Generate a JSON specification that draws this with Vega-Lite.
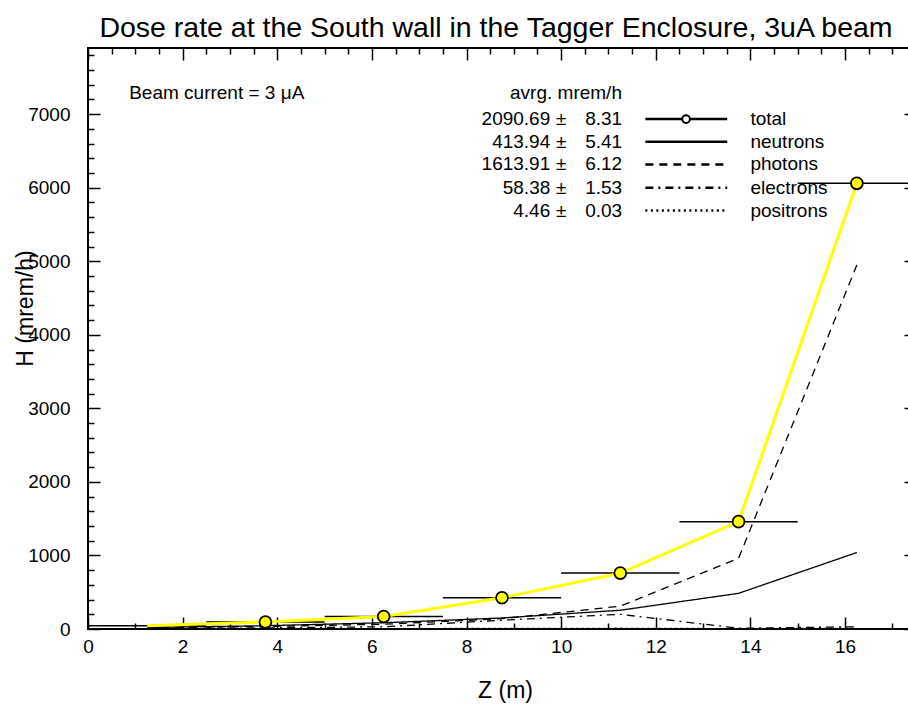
{
  "$schema": "https://vega.github.io/schema/vega-lite/v6.json",
  "width": 828,
  "height": 581,
  "autosize": {"type": "none"},
  "padding": {"left": 88, "top": 48, "right": 0, "bottom": 75},
  "background": "white",
  "title": {
    "text": "Dose rate at the South wall in the Tagger Enclosure, 3uA beam",
    "font": "Liberation Sans", "fontSize": 28.5, "fontWeight": "normal", "color": "black",
    "anchor": "middle", "dx": -6, "dy": 30, "offset": 11, "baseline": "alphabetic"
  },
  "config": {
    "view": {"stroke": "black", "strokeWidth": 2},
    "axis": {
      "grid": false, "domain": false, "tickColor": "black", "tickWidth": 1.5,
      "labelColor": "black", "labelFont": "Liberation Sans", "labelFontSize": 19,
      "titleFont": "Liberation Sans", "titleFontSize": 23, "titleFontWeight": "normal", "titleColor": "black",
      "labelFlush": false, "labelOverlap": false, "labelBound": false
    },
    "text": {"font": "Liberation Sans", "fontSize": 19, "color": "black"}
  },
  "datasets": {
    "comp": [
      {"z": 1.25, "H": 20, "p": "neutrons"}, {"z": 3.75, "H": 45, "p": "neutrons"}, {"z": 6.25, "H": 85, "p": "neutrons"}, {"z": 8.75, "H": 150, "p": "neutrons"}, {"z": 11.25, "H": 255, "p": "neutrons"}, {"z": 13.75, "H": 485, "p": "neutrons"}, {"z": 16.25, "H": 1040, "p": "neutrons"},
      {"z": 1.25, "H": 15, "p": "photons"}, {"z": 3.75, "H": 35, "p": "photons"}, {"z": 6.25, "H": 65, "p": "photons"}, {"z": 8.75, "H": 140, "p": "photons"}, {"z": 11.25, "H": 310, "p": "photons"}, {"z": 13.75, "H": 960, "p": "photons"}, {"z": 16.25, "H": 4950, "p": "photons"},
      {"z": 1.25, "H": 5, "p": "electrons"}, {"z": 3.75, "H": 15, "p": "electrons"}, {"z": 6.25, "H": 30, "p": "electrons"}, {"z": 8.75, "H": 120, "p": "electrons"}, {"z": 11.25, "H": 200, "p": "electrons"}, {"z": 13.75, "H": 10, "p": "electrons"}, {"z": 16.25, "H": 30, "p": "electrons"},
      {"z": 1.25, "H": 2, "p": "positrons"}, {"z": 3.75, "H": 3, "p": "positrons"}, {"z": 6.25, "H": 5, "p": "positrons"}, {"z": 8.75, "H": 8, "p": "positrons"}, {"z": 11.25, "H": 10, "p": "positrons"}, {"z": 13.75, "H": 5, "p": "positrons"}, {"z": 16.25, "H": 8, "p": "positrons"}
    ],
    "total": [
      {"z": 1.25, "H": 45, "lo": 0, "hi": 2.5},
      {"z": 3.75, "H": 95, "lo": 2.5, "hi": 5},
      {"z": 6.25, "H": 170, "lo": 5, "hi": 7.5},
      {"z": 8.75, "H": 425, "lo": 7.5, "hi": 10},
      {"z": 11.25, "H": 760, "lo": 10, "hi": 12.5},
      {"z": 13.75, "H": 1460, "lo": 12.5, "hi": 15},
      {"z": 16.25, "H": 6060, "lo": 15, "hi": 17.5}
    ],
    "leg": [
      {"p": "total", "val": "2090.69", "err": "8.31", "ly": 6933},
      {"p": "neutrons", "val": "413.94", "err": "5.41", "ly": 6624},
      {"p": "photons", "val": "1613.91", "err": "6.12", "ly": 6317},
      {"p": "electrons", "val": "58.38", "err": "1.53", "ly": 6001},
      {"p": "positrons", "val": "4.46", "err": "0.03", "ly": 5689}
    ],
    "notes": [
      {"t": "avrg. mrem/h", "nx": 8.92, "ny": 7286},
      {"t": "Beam current = 3 μA", "nx": 0.87, "ny": 7286}
    ]
  },
  "resolve": {"axis": {"x": "independent", "y": "independent"}},
  "layer": [
    {
      "data": {"name": "comp"},
      "mark": {"type": "line", "color": "black", "strokeWidth": 1.3},
      "encoding": {
        "x": {"field": "z", "type": "quantitative", "scale": {"domain": [0, 17.5], "nice": false, "zero": false},
          "axis": {"orient": "bottom", "title": "Z (m)",
            "values": [0,0.5,1,1.5,2,2.5,3,3.5,4,4.5,5,5.5,6,6.5,7,7.5,8,8.5,9,9.5,10,10.5,11,11.5,12,12.5,13,13.5,14,14.5,15,15.5,16,16.5,17,17.5],
            "format": "d",
            "labelExpr": "datum.value % 2 === 0 ? datum.label : ''",
            "tickSize": {"condition": {"test": "datum.value % 2 === 0", "value": -12}, "value": -6},
            "labelPadding": 20,
            "titleX": 417, "titleY": 61, "titleBaseline": "middle", "titleAlign": "center"}},
        "y": {"field": "H", "type": "quantitative", "scale": {"domain": [0, 7900], "nice": false},
          "axis": {"orient": "left", "title": "H (mrem/h)",
            "values": [0,200,400,600,800,1000,1200,1400,1600,1800,2000,2200,2400,2600,2800,3000,3200,3400,3600,3800,4000,4200,4400,4600,4800,5000,5200,5400,5600,5800,6000,6200,6400,6600,6800,7000,7200,7400,7600,7800],
            "format": "d",
            "labelExpr": "datum.value % 1000 === 0 ? datum.label : ''",
            "tickSize": {"condition": {"test": "datum.value % 1000 === 0", "value": -12}, "value": -6},
            "labelPadding": 30,
            "titleX": -63, "titleY": 260, "titleAngle": -90, "titleBaseline": "middle", "titleAlign": "center"}},
        "detail": {"field": "p"},
        "strokeDash": {"field": "p", "type": "nominal",
          "scale": {"domain": ["total", "neutrons", "photons", "electrons", "positrons"], "range": [[1, 0], [1, 0], [8, 6], [8, 5, 2, 5], [2, 3.5]]},
          "legend": null}
      }
    },
    {
      "data": {"name": "total"},
      "mark": {"type": "rule", "color": "black", "strokeWidth": 1.5},
      "encoding": {
        "x": {"field": "lo", "type": "quantitative", "scale": {"domain": [0, 17.5], "nice": false, "zero": false},
          "axis": {"orient": "top", "title": null, "labels": false,
            "values": [0,0.5,1,1.5,2,2.5,3,3.5,4,4.5,5,5.5,6,6.5,7,7.5,8,8.5,9,9.5,10,10.5,11,11.5,12,12.5,13,13.5,14,14.5,15,15.5,16,16.5,17,17.5],
            "tickSize": {"condition": {"test": "datum.value % 2 === 0", "value": -12}, "value": -6}}},
        "x2": {"field": "hi"},
        "y": {"field": "H", "type": "quantitative", "scale": {"domain": [0, 7900], "nice": false},
          "axis": {"orient": "right", "title": null, "labels": false,
            "values": [0,200,400,600,800,1000,1200,1400,1600,1800,2000,2200,2400,2600,2800,3000,3200,3400,3600,3800,4000,4200,4400,4600,4800,5000,5200,5400,5600,5800,6000,6200,6400,6600,6800,7000,7200,7400,7600,7800],
            "tickSize": {"condition": {"test": "datum.value % 1000 === 0", "value": -12}, "value": -6}}}
      }
    },
    {
      "data": {"name": "total"},
      "mark": {"type": "line", "color": "#ffff00", "strokeWidth": 3},
      "encoding": {
        "x": {"field": "z", "type": "quantitative", "axis": null},
        "y": {"field": "H", "type": "quantitative", "axis": null}
      }
    },
    {
      "data": {"name": "total"},
      "transform": [{"filter": "datum.z > 2"}],
      "mark": {"type": "point", "filled": true, "fill": "#ffff00", "stroke": "black", "strokeWidth": 1.8, "size": 140, "opacity": 1},
      "encoding": {
        "x": {"field": "z", "type": "quantitative", "axis": null},
        "y": {"field": "H", "type": "quantitative", "axis": null}
      }
    },
    {
      "data": {"name": "leg"},
      "mark": {"type": "rule", "color": "black", "strokeWidth": 2.5},
      "encoding": {
        "x": {"datum": 11.78, "type": "quantitative", "axis": null},
        "x2": {"datum": 13.51},
        "y": {"field": "ly", "type": "quantitative", "axis": null},
        "strokeDash": {"field": "p", "type": "nominal", "legend": null}
      }
    },
    {
      "data": {"name": "leg"},
      "transform": [{"filter": "datum.p === 'total'"}],
      "mark": {"type": "point", "filled": true, "fill": "white", "stroke": "black", "strokeWidth": 2, "size": 60, "opacity": 1},
      "encoding": {
        "x": {"datum": 12.64, "type": "quantitative", "axis": null},
        "y": {"field": "ly", "type": "quantitative", "axis": null}
      }
    },
    {
      "data": {"name": "leg"},
      "mark": {"type": "text", "align": "right", "baseline": "middle"},
      "encoding": {
        "x": {"datum": 9.77, "type": "quantitative", "axis": null},
        "y": {"field": "ly", "type": "quantitative", "axis": null},
        "text": {"field": "val"}
      }
    },
    {
      "data": {"name": "leg"},
      "mark": {"type": "text", "align": "center", "baseline": "middle"},
      "encoding": {
        "x": {"datum": 10.0, "type": "quantitative", "axis": null},
        "y": {"field": "ly", "type": "quantitative", "axis": null},
        "text": {"value": "±"}
      }
    },
    {
      "data": {"name": "leg"},
      "mark": {"type": "text", "align": "right", "baseline": "middle"},
      "encoding": {
        "x": {"datum": 11.29, "type": "quantitative", "axis": null},
        "y": {"field": "ly", "type": "quantitative", "axis": null},
        "text": {"field": "err"}
      }
    },
    {
      "data": {"name": "leg"},
      "mark": {"type": "text", "align": "left", "baseline": "middle"},
      "encoding": {
        "x": {"datum": 14.0, "type": "quantitative", "axis": null},
        "y": {"field": "ly", "type": "quantitative", "axis": null},
        "text": {"field": "p"}
      }
    },
    {
      "data": {"name": "notes"},
      "mark": {"type": "text", "align": "left", "baseline": "middle"},
      "encoding": {
        "x": {"field": "nx", "type": "quantitative", "axis": null},
        "y": {"field": "ny", "type": "quantitative", "axis": null},
        "text": {"field": "t"}
      }
    }
  ]
}
